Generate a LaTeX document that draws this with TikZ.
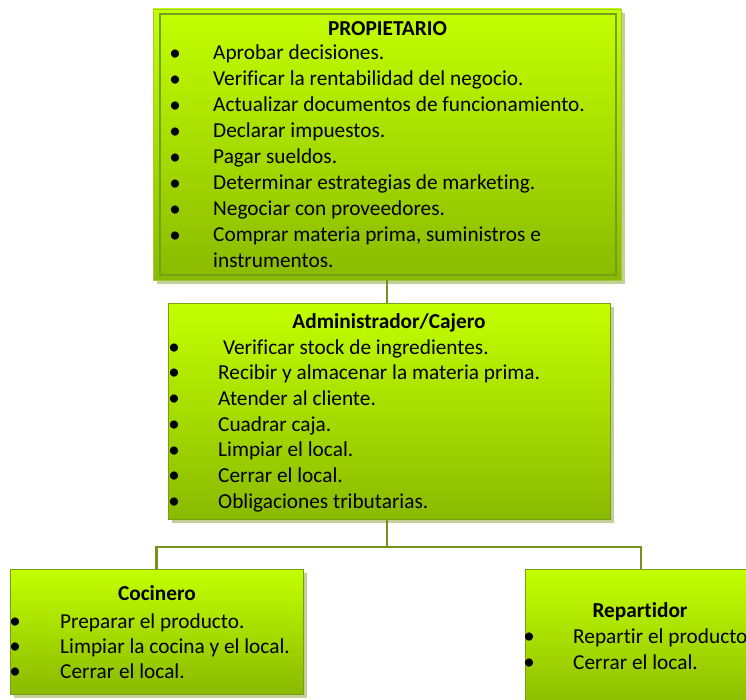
\documentclass[tikz,border=0pt]{standalone}
\usepackage{fontspec}
\setmainfont{Carlito}[Ligatures=NoCommon]
\usetikzlibrary{shadows}
\definecolor{limetop}{RGB}{196,255,0}
\definecolor{limebot}{RGB}{138,186,0}
\definecolor{boxedge}{RGB}{118,158,22}
\definecolor{outeredge}{RGB}{160,200,60}
\definecolor{linkc}{RGB}{116,146,28}
\definecolor{shadowc}{RGB}{196,206,152}
\tikzset{
  rolebox/.style={rectangle, inner sep=0pt, outer sep=0pt,
    top color=limetop, bottom color=limebot,
    drop shadow={shadow xshift=4pt, shadow yshift=-4pt, fill=shadowc, opacity=1}},
  innerframe/.style={draw=boxedge, line width=1.1pt},
  roletitle/.style={inner sep=0pt, font=\fontsize{21.3}{25}\selectfont\bfseries},
  itemtext/.style={anchor=west, inner sep=0pt, text height=14pt, text depth=4pt,
    font=\fontsize{21.3}{25}\selectfont},
  bul/.style={inner sep=0pt, font=\fontsize{23}{25}\selectfont},
  link/.style={draw=linkc, line width=2.6pt}
}
\begin{document}
\begin{tikzpicture}[x=1pt,y=-1pt]
\useasboundingbox (0,0) rectangle (746,700);

% boxes
\node[rolebox, draw=outeredge, line width=0.8pt, minimum width=468pt, minimum height=271pt] (prop) at (387,144.5) {};
\draw[innerframe] (160,14) rectangle (616,275);
\node[rolebox, draw=boxedge, line width=1pt, minimum width=442pt, minimum height=216pt] (admin) at (389,411) {};
\node[rolebox, draw=boxedge, line width=1pt, minimum width=293pt, minimum height=125pt] (coc) at (156.5,631.5) {};
\node[rolebox, draw=boxedge, line width=1pt, minimum width=232pt, minimum height=143pt] (rep) at (641,640.5) {};

% connectors
\coordinate (jn) at (387,547);
\draw[link] (387,280.5) -- (387,302.5);
\draw[link] (387,519.5) -- (jn);
\draw[link] (coc.north) |- (jn) -| (rep.north);

% PROPIETARIO
\node[roletitle] (propt) at (387.5,29) {PROPIETARIO};
\foreach \t [count=\i from 0] in {Aprobar decisiones.,
    Verificar la rentabilidad del negocio.,
    Actualizar documentos de funcionamiento.,
    Declarar impuestos.,
    Pagar sueldos.,
    Determinar estrategias de marketing.,
    Negociar con proveedores.,
    {Comprar materia prima, suministros e}} {
  \node[bul] (pb\i) at (175,55+26*\i) {\textbullet};
  \node[itemtext] (pt\i) at (213,55+26*\i) {\t};
}
\node[itemtext] (pt8) at (213,263) {instrumentos.};

% Administrador/Cajero
\node[roletitle] (admt) at (389,323) {Administrador/Cajero};
\foreach \t [count=\i from 0] in {\ Verificar stock de ingredientes.,
    Recibir y almacenar la materia prima.,
    Atender al cliente.,
    Cuadrar caja.,
    Limpiar el local.,
    Cerrar el local.,
    Obligaciones tributarias.} {
  \node[bul] (ab\i) at (174,349+25.7*\i) {\textbullet};
  \node[itemtext] (at\i) at (218,349+25.7*\i) {\t};
}

% Cocinero
\node[roletitle] (coct) at (157,593) {Cocinero};
\foreach \t [count=\i from 0] in {Preparar el producto.,
    Limpiar la cocina y el local.,
    Cerrar el local.} {
  \node[bul] (cb\i) at (15,623+25*\i) {\textbullet};
  \node[itemtext] (ct\i) at (60,623+25*\i) {\t};
}

% Repartidor
\node[roletitle] (rept) at (640,612) {Repartidor};
\foreach \t [count=\i from 0] in {Repartir el producto.,
    Cerrar el local.} {
  \node[bul] (rb\i) at (529,638+26.5*\i) {\textbullet};
  \node[itemtext] (rt\i) at (573,638+26.5*\i) {\t};
}
\end{tikzpicture}
\end{document}
